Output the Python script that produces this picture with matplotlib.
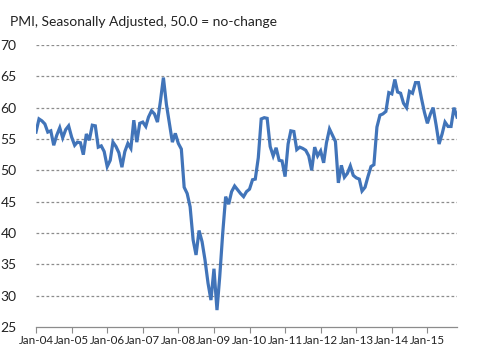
import pandas as pd
import matplotlib.pyplot as plt

# PMI mensual, enero 2004 a noviembre 2015
pmi_2004 = [56.1, 58.2, 57.9, 57.4, 56.1, 56.3, 54.0, 55.6, 56.8, 55.2, 56.5, 57.1]
pmi_2005 = [55.3, 54.0, 54.5, 54.4, 52.5, 55.8, 54.8, 57.2, 57.1, 53.7, 53.9, 53.0]
pmi_2006 = [50.6, 51.6, 54.5, 53.8, 52.8, 50.5, 53.0, 54.3, 53.5, 58.0, 54.5, 57.5]
pmi_2007 = [57.7, 57.0, 58.5, 59.5, 59.0, 57.7, 61.0, 64.8, 60.5, 57.5, 54.5, 55.9]
pmi_2008 = [54.3, 53.4, 47.3, 46.3, 44.2, 38.9, 36.5, 40.4, 38.6, 35.7, 32.0, 29.3]
pmi_2009 = [34.3, 27.7, 33.0, 40.0, 45.8, 44.6, 46.6, 47.5, 46.9, 46.3, 45.8, 46.6]
pmi_2010 = [47.0, 48.5, 48.6, 52.0, 58.2, 58.4, 58.3, 53.8, 52.3, 53.6, 51.6, 51.5]
pmi_2011 = [49.0, 54.2, 56.3, 56.2, 53.3, 53.7, 53.5, 53.2, 52.3, 50.0, 53.7, 52.3]
pmi_2012 = [53.1, 51.2, 54.4, 56.6, 55.6, 54.6, 48.0, 50.8, 48.9, 49.5, 50.7, 49.2]
pmi_2013 = [48.8, 48.6, 46.7, 47.3, 49.0, 50.6, 50.9, 56.9, 58.8, 59.0, 59.4, 62.4]
pmi_2014 = [62.2, 64.5, 62.5, 62.3, 60.7, 60.0, 62.6, 62.3, 64.0, 64.0, 61.5, 59.3]
pmi_2015 = [57.5, 59.0, 60.0, 57.2, 54.2, 55.8, 57.7, 57.0, 57.0, 60.0, 58.5]

pmi = (pmi_2004 + pmi_2005 + pmi_2006 + pmi_2007 + pmi_2008 + pmi_2009
       + pmi_2010 + pmi_2011 + pmi_2012 + pmi_2013 + pmi_2014 + pmi_2015)
meses = pd.date_range("2004-01-01", periods=len(pmi), freq="MS")

tick_labels = ["Jan-04", "Jan-05", "Jan-06", "Jan-07", "Jan-08", "Jan-09",
               "Jan-10", "Jan-11", "Jan-12", "Jan-13", "Jan-14", "Jan-15"]
tick_fechas = pd.date_range("2004-01-01", periods=len(tick_labels), freq="12MS")
y_ticks = [25, 30, 35, 40, 45, 50, 55, 60, 65, 70]

plt.rcParams["font.family"] = ["Lato", "DejaVu Sans"]

fig = plt.figure(figsize=(5.0, 3.64), dpi=100)
ax = fig.add_axes([0.072, 0.1016, 0.842, 0.7748])

# lineas de grilla punteadas (estilo Excel)
for y in y_ticks[1:]:
    ax.axhline(y, color="#8c8c8c", linestyle=(0, (2.2, 1.8)), linewidth=0.9, zorder=1)

ax.plot(meses, pmi, color="#4174b9", linewidth=2.3, solid_joinstyle="miter", zorder=3)

ax.set_ylim(25, 70)
ax.set_yticks(y_ticks)
ax.set_xlim(meses[0], meses[-1])
ax.set_xticks(tick_fechas)
ax.set_xticklabels(tick_labels)

for lado in ["top", "right", "left"]:
    ax.spines[lado].set_visible(False)
ax.spines["bottom"].set_color("#8c8c8c")
ax.spines["bottom"].set_linewidth(0.9)
ax.tick_params(axis="x", length=4, color="#8c8c8c", labelsize=8.4, pad=1.5, labelcolor="#222222")
ax.tick_params(axis="y", length=0, labelsize=10, pad=14, labelcolor="#222222")

fig.text(0.02, 0.94, "PMI, Seasonally Adjusted, 50.0 = no-change",
         fontsize=10, color="#222222", va="center", ha="left")

plt.savefig("out.png", dpi=100)
